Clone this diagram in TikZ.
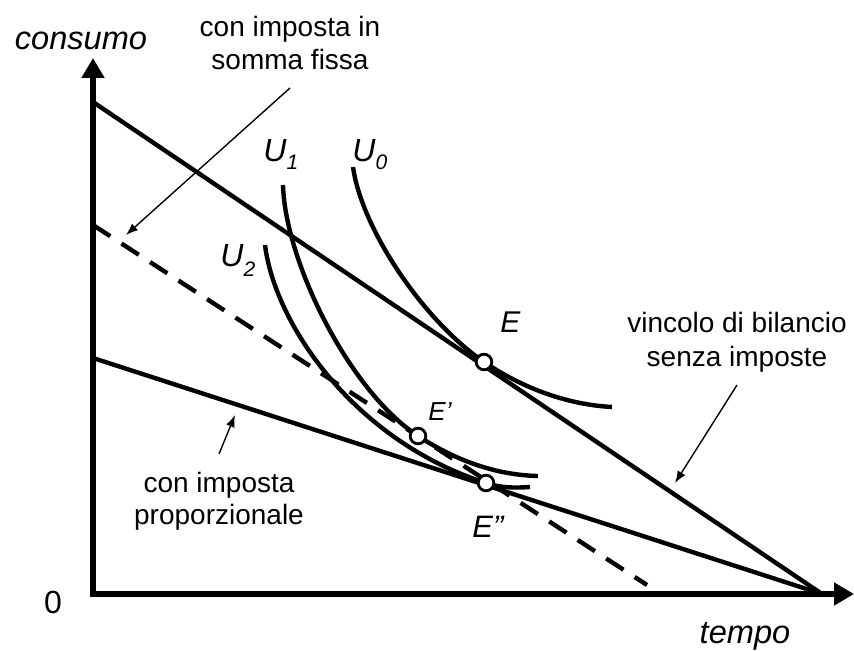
\documentclass[tikz,border=0pt]{standalone}
\usepackage{fontspec}
\setmainfont{Liberation Sans}
\usetikzlibrary{arrows.meta}
\begin{document}
\begin{tikzpicture}[x=0.5pt,y=-0.5pt,
  axis/.style={line width=3pt, line join=miter},
  budget/.style={line width=2.2pt},
  dashline/.style={line width=2.2pt, dash pattern=on 10.3pt off 6.7pt},
  icurve/.style={line width=2.2pt},
  lbl/.style={font=\fontsize{14}{16}\selectfont, inner sep=0pt, anchor=base},
  big/.style={font=\fontsize{16.3}{19}\selectfont\itshape, inner sep=0pt, anchor=base},
  ulbl/.style={font=\fontsize{16}{19}\selectfont\itshape, inner sep=0pt, anchor=base west},
  ptc/.style={circle, draw, fill=white, line width=1.4pt, minimum size=7.8pt, inner sep=0pt},
  note/.style={line width=0.7pt, -{Latex[length=6pt,width=4.5pt]}}]
\useasboundingbox (0,0) rectangle (854,651);
% coordinates
\coordinate (O) at (93,594);
\coordinate (Ytip) at (93,58);
\coordinate (Xtip) at (854,594);
\coordinate (A) at (93,102);
\coordinate (B) at (822,594);
\coordinate (C) at (93,225);
\coordinate (D) at (647,585);
\coordinate (F) at (93,358);
\coordinate (Ep) at (484,362);
\coordinate (E1p) at (418,436);
\coordinate (E2p) at (486,483);
\coordinate (U0s) at (353,167);
\coordinate (U0e) at (612,407);
\coordinate (U1s) at (283,185);
\coordinate (U1e) at (538,476);
\coordinate (U2s) at (265,245);
\coordinate (U2e) at (530,487);
% budget lines
\draw[budget] (A) -- (B);
\draw[budget] (F) -- (B);
\draw[dashline] (C) -- (D);
% indifference curves
\draw[icurve] (U0s) .. controls (362,230) and (424,321) .. (Ep)
               .. controls (530,393) and (575,405) .. (U0e);
\draw[icurve] (U1s) .. controls (285,260) and (348,390) .. (E1p)
               .. controls (455,460) and (495,475) .. (U1e);
\draw[icurve] (U2s) .. controls (275,325) and (355,441) .. (E2p)
               .. controls (500,488) and (515,488) .. (U2e);
% axes
\draw[axis, {Triangle[length=10pt,width=11pt]}-{Triangle[length=10pt,width=11pt]}] (Ytip) -- (O) -- (Xtip);
% points
\node[ptc] (E) at (Ep) {};
\node[ptc] (E1) at (E1p) {};
\node[ptc] (E2) at (E2p) {};
% labels
\node[big] (consumo) at (81,50) {consumo};
\node[big] (tempo) at (745,643) {tempo};
\node[lbl, font=\fontsize{16}{19}\selectfont] (zero) at (53,613) {0};
\node[ulbl] (U0) at (352,162) {U\raisebox{-4pt}{\fontsize{10.5}{12}\selectfont 0}};
\node[ulbl] (U1) at (263,162) {U\raisebox{-4pt}{\fontsize{10.5}{12}\selectfont 1}};
\node[ulbl] (U2) at (220,267) {U\raisebox{-5pt}{\fontsize{10.5}{12}\selectfont 2}};
\node[ulbl, font=\fontsize{15}{18}\selectfont\itshape] (Elbl) at (500,333) {E};
\node[ulbl, font=\fontsize{13}{16}\selectfont\itshape] (E1lbl) at (428,420) {E’};
\node[ulbl, font=\fontsize{15.5}{18}\selectfont\itshape] (E2lbl) at (472,537) {E”};
\node[lbl] (ls1) at (290,37) {con imposta in};
\node[lbl] (ls2) at (290,70) {somma fissa};
\node[lbl] (vb1) at (737,333) {vincolo di bilancio};
\node[lbl] (vb2) at (737,366) {senza imposte};
\node[lbl] (pp1) at (219,492) {con imposta};
\node[lbl] (pp2) at (219,524) {proporzionale};
% annotation arrows
\coordinate (a1s) at (290,88);
\coordinate (a1e) at (126,235);
\coordinate (a2s) at (219,454);
\coordinate (a2e) at (235,415);
\coordinate (a3s) at (737,385);
\coordinate (a3e) at (675,483);
\draw[note] (a1s) -- (a1e);
\draw[note] (a2s) -- (a2e);
\draw[note] (a3s) -- (a3e);
\end{tikzpicture}
\end{document}
